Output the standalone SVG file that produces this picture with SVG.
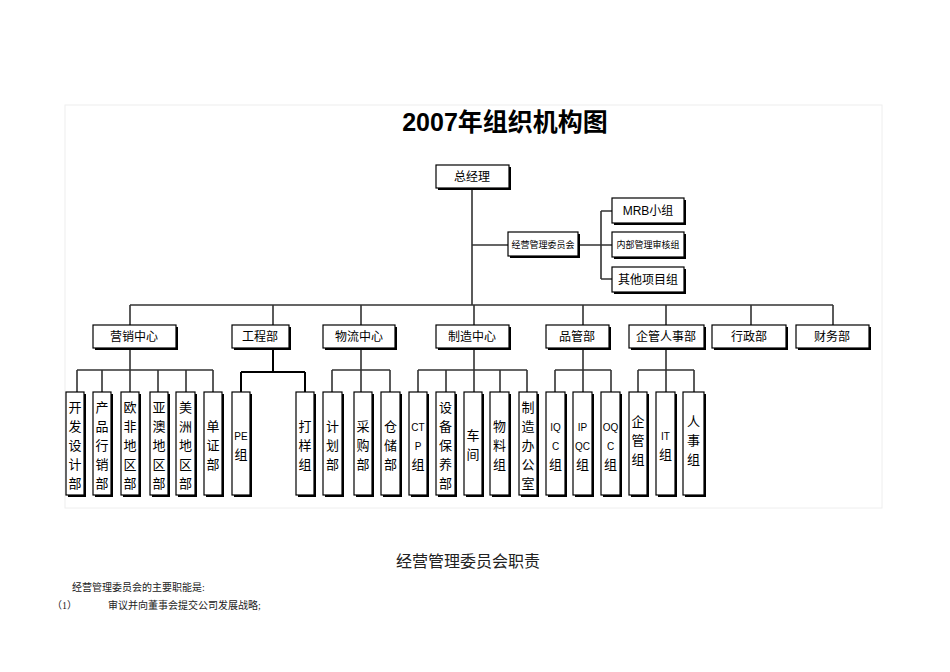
<svg xmlns="http://www.w3.org/2000/svg" width="950" height="672" viewBox="0 0 950 672">
<style>
.b{fill:#fff;stroke:#000;stroke-width:1.2}
.s{fill:#000}
.t{font-family:"Liberation Sans","Noto Sans CJK SC",sans-serif;font-size:12px;fill:#000;text-anchor:middle}
.v{font-family:"Liberation Sans","Noto Sans CJK SC",sans-serif;font-size:13px;fill:#000;text-anchor:middle}
.m{font-size:10px}
.l{stroke:#333;stroke-width:1.6;fill:none}
.p{font-family:"Liberation Serif","Noto Sans CJK SC",serif;fill:#222}
</style>
<rect x="65" y="105" width="817" height="403" fill="#fff" stroke="#eee"/>
<text x="505" y="131" style="font-family:'Liberation Sans','Noto Sans CJK SC',sans-serif;font-size:25px;font-weight:bold" text-anchor="middle">2007年组织机构图</text>
<g id="connectors" class="l">
<path d="M472 188V305M472 245H508M578 245H601M601 211V279M601 211H612M601 245H612M601 279H612"/>
<path d="M130 305H833M130 305V326M273 305V326M361 305V326M474 305V326M583 305V326M666 305V326M751 305V326M833 305V326"/>
<path d="M130 348V370M77 370H213M77 370V392M102 370V392M130 370V392M158 370V392M186 370V392M213 370V392"/>
<path d="M273 348V372M241 372H305M241 372V392M305 372V392" stroke="#000" stroke-width="2"/>
<path d="M361 348V392M332 370H390M332 370V392M390 370V392"/>
<path d="M474 348V370M418 370H527M418 370V392M446 370V392M474 370V392M500 370V392M527 370V392"/>
<path d="M583 348V370M555 370H611M555 370V392M583 370V392M611 370V392"/>
<path d="M666 348V370M638 370H694M638 370V392M666 370V392M694 370V392"/>
</g>
<g id="n0"><rect class="s" x="438" y="167" width="73" height="23"/><rect class="b" x="436" y="165" width="73" height="23"/><text class="t" x="472" y="181">总经理</text></g>
<g id="n1"><rect class="s" x="510" y="234" width="70" height="24"/><rect class="b" x="508" y="232" width="70" height="24"/><text class="t" x="543" y="248" style="font-size:9px">经营管理委员会</text></g>
<g id="n2"><rect class="s" x="614" y="200" width="72" height="25"/><rect class="b" x="612" y="198" width="72" height="25"/><text class="t" x="648" y="215">MRB小组</text></g>
<g id="n3"><rect class="s" x="614" y="234" width="72" height="25"/><rect class="b" x="612" y="232" width="72" height="25"/><text class="t" x="648" y="248" style="font-size:9px">内部管理审核组</text></g>
<g id="n4"><rect class="s" x="614" y="269" width="72" height="25"/><rect class="b" x="612" y="267" width="72" height="25"/><text class="t" x="648" y="284">其他项目组</text></g>
<g id="d1"><rect class="s" x="95" y="327" width="83" height="23"/><rect class="b" x="93" y="325" width="83" height="23"/><text class="t" x="134" y="341">营销中心</text></g>
<g id="d2"><rect class="s" x="234" y="327" width="57" height="23"/><rect class="b" x="232" y="325" width="57" height="23"/><text class="t" x="260" y="341">工程部</text></g>
<g id="d3"><rect class="s" x="325" y="327" width="72" height="23"/><rect class="b" x="323" y="325" width="72" height="23"/><text class="t" x="359" y="341">物流中心</text></g>
<g id="d4"><rect class="s" x="438" y="327" width="73" height="23"/><rect class="b" x="436" y="325" width="73" height="23"/><text class="t" x="472" y="341">制造中心</text></g>
<g id="d5"><rect class="s" x="548" y="327" width="63" height="23"/><rect class="b" x="546" y="325" width="63" height="23"/><text class="t" x="577" y="341">品管部</text></g>
<g id="d6"><rect class="s" x="631" y="327" width="75" height="23"/><rect class="b" x="629" y="325" width="75" height="23"/><text class="t" x="666" y="341">企管人事部</text></g>
<g id="d7"><rect class="s" x="714" y="327" width="74" height="23"/><rect class="b" x="712" y="325" width="74" height="23"/><text class="t" x="749" y="341">行政部</text></g>
<g id="d8"><rect class="s" x="798" y="327" width="73" height="23"/><rect class="b" x="796" y="325" width="73" height="23"/><text class="t" x="832" y="341">财务部</text></g>
<g id="s1"><rect class="s" x="68" y="394" width="18" height="103"/><rect class="b" x="66" y="392" width="18" height="103"/><text class="v" x="75" y="412"><tspan x="75">开</tspan><tspan x="75" dy="19">发</tspan><tspan x="75" dy="19">设</tspan><tspan x="75" dy="19">计</tspan><tspan x="75" dy="19">部</tspan></text></g>
<g id="s2"><rect class="s" x="95" y="394" width="18" height="103"/><rect class="b" x="93" y="392" width="18" height="103"/><text class="v" x="102" y="412"><tspan x="102">产</tspan><tspan x="102" dy="19">品</tspan><tspan x="102" dy="19">行</tspan><tspan x="102" dy="19">销</tspan><tspan x="102" dy="19">部</tspan></text></g>
<g id="s3"><rect class="s" x="123" y="394" width="18" height="103"/><rect class="b" x="121" y="392" width="18" height="103"/><text class="v" x="130" y="412"><tspan x="130">欧</tspan><tspan x="130" dy="19">非</tspan><tspan x="130" dy="19">地</tspan><tspan x="130" dy="19">区</tspan><tspan x="130" dy="19">部</tspan></text></g>
<g id="s4"><rect class="s" x="152" y="394" width="18" height="103"/><rect class="b" x="150" y="392" width="18" height="103"/><text class="v" x="159" y="412"><tspan x="159">亚</tspan><tspan x="159" dy="19">澳</tspan><tspan x="159" dy="19">地</tspan><tspan x="159" dy="19">区</tspan><tspan x="159" dy="19">部</tspan></text></g>
<g id="s5"><rect class="s" x="178" y="394" width="19" height="103"/><rect class="b" x="176" y="392" width="19" height="103"/><text class="v" x="185.5" y="412"><tspan x="185.5">美</tspan><tspan x="185.5" dy="19">洲</tspan><tspan x="185.5" dy="19">地</tspan><tspan x="185.5" dy="19">区</tspan><tspan x="185.5" dy="19">部</tspan></text></g>
<g id="s6"><rect class="s" x="206" y="394" width="18" height="103"/><rect class="b" x="204" y="392" width="18" height="103"/><text class="v" x="213" y="431"><tspan x="213">单</tspan><tspan x="213" dy="19">证</tspan><tspan x="213" dy="19">部</tspan></text></g>
<g id="s7"><rect class="s" x="234" y="394" width="18" height="103"/><rect class="b" x="232" y="392" width="18" height="103"/><text class="v" x="241" y="440"><tspan x="241" class="m">PE</tspan><tspan x="241" dy="19">组</tspan></text></g>
<g id="s8"><rect class="s" x="298" y="394" width="18" height="103"/><rect class="b" x="296" y="392" width="18" height="103"/><text class="v" x="305" y="431"><tspan x="305">打</tspan><tspan x="305" dy="19">样</tspan><tspan x="305" dy="19">组</tspan></text></g>
<g id="s9"><rect class="s" x="325" y="394" width="19" height="103"/><rect class="b" x="323" y="392" width="19" height="103"/><text class="v" x="332.5" y="431"><tspan x="332.5">计</tspan><tspan x="332.5" dy="19">划</tspan><tspan x="332.5" dy="19">部</tspan></text></g>
<g id="s10"><rect class="s" x="356" y="394" width="18" height="103"/><rect class="b" x="354" y="392" width="18" height="103"/><text class="v" x="363" y="431"><tspan x="363">采</tspan><tspan x="363" dy="19">购</tspan><tspan x="363" dy="19">部</tspan></text></g>
<g id="s11"><rect class="s" x="383" y="394" width="19" height="103"/><rect class="b" x="381" y="392" width="19" height="103"/><text class="v" x="390.5" y="431"><tspan x="390.5">仓</tspan><tspan x="390.5" dy="19">储</tspan><tspan x="390.5" dy="19">部</tspan></text></g>
<g id="s12"><rect class="s" x="411" y="394" width="18" height="103"/><rect class="b" x="409" y="392" width="18" height="103"/><text class="v" x="418" y="431"><tspan x="418" class="m">CT</tspan><tspan x="418" dy="19" class="m">P</tspan><tspan x="418" dy="19">组</tspan></text></g>
<g id="s13"><rect class="s" x="438" y="394" width="19" height="103"/><rect class="b" x="436" y="392" width="19" height="103"/><text class="v" x="445.5" y="412"><tspan x="445.5">设</tspan><tspan x="445.5" dy="19">备</tspan><tspan x="445.5" dy="19">保</tspan><tspan x="445.5" dy="19">养</tspan><tspan x="445.5" dy="19">部</tspan></text></g>
<g id="s14"><rect class="s" x="466" y="394" width="18" height="103"/><rect class="b" x="464" y="392" width="18" height="103"/><text class="v" x="473" y="440"><tspan x="473">车</tspan><tspan x="473" dy="19">间</tspan></text></g>
<g id="s15"><rect class="s" x="492" y="394" width="19" height="103"/><rect class="b" x="490" y="392" width="19" height="103"/><text class="v" x="499.5" y="431"><tspan x="499.5">物</tspan><tspan x="499.5" dy="19">料</tspan><tspan x="499.5" dy="19">组</tspan></text></g>
<g id="s16"><rect class="s" x="521" y="394" width="18" height="103"/><rect class="b" x="519" y="392" width="18" height="103"/><text class="v" x="528" y="412"><tspan x="528">制</tspan><tspan x="528" dy="19">造</tspan><tspan x="528" dy="19">办</tspan><tspan x="528" dy="19">公</tspan><tspan x="528" dy="19">室</tspan></text></g>
<g id="s17"><rect class="s" x="548" y="394" width="19" height="103"/><rect class="b" x="546" y="392" width="19" height="103"/><text class="v" x="555.5" y="431"><tspan x="555.5" class="m">IQ</tspan><tspan x="555.5" dy="19" class="m">C</tspan><tspan x="555.5" dy="19">组</tspan></text></g>
<g id="s18"><rect class="s" x="575" y="394" width="19" height="103"/><rect class="b" x="573" y="392" width="19" height="103"/><text class="v" x="582.5" y="431"><tspan x="582.5" class="m">IP</tspan><tspan x="582.5" dy="19" class="m">QC</tspan><tspan x="582.5" dy="19">组</tspan></text></g>
<g id="s19"><rect class="s" x="603" y="394" width="19" height="103"/><rect class="b" x="601" y="392" width="19" height="103"/><text class="v" x="610.5" y="431"><tspan x="610.5" class="m">OQ</tspan><tspan x="610.5" dy="19" class="m">C</tspan><tspan x="610.5" dy="19">组</tspan></text></g>
<g id="s20"><rect class="s" x="631" y="394" width="18" height="103"/><rect class="b" x="629" y="392" width="18" height="103"/><text class="v" x="638" y="426"><tspan x="638">企</tspan><tspan x="638" dy="19">管</tspan><tspan x="638" dy="19">组</tspan></text></g>
<g id="s21"><rect class="s" x="658" y="394" width="19" height="103"/><rect class="b" x="656" y="392" width="19" height="103"/><text class="v" x="665.5" y="440"><tspan x="665.5" class="m">IT</tspan><tspan x="665.5" dy="19">组</tspan></text></g>
<g id="s22"><rect class="s" x="685" y="394" width="21" height="103"/><rect class="b" x="683" y="392" width="21" height="103"/><text class="v" x="693.5" y="426"><tspan x="693.5">人</tspan><tspan x="693.5" dy="19">事</tspan><tspan x="693.5" dy="19">组</tspan></text></g>
<text class="p" x="468" y="567" text-anchor="middle" font-size="16">经营管理委员会职责</text>
<text class="p" x="72" y="591" font-size="10">经营管理委员会的主要职能是:</text>
<text class="p" x="52" y="609" font-size="10">（1）</text>
<text class="p" x="108" y="609" font-size="10">审议并向董事会提交公司发展战略;</text>
</svg>
